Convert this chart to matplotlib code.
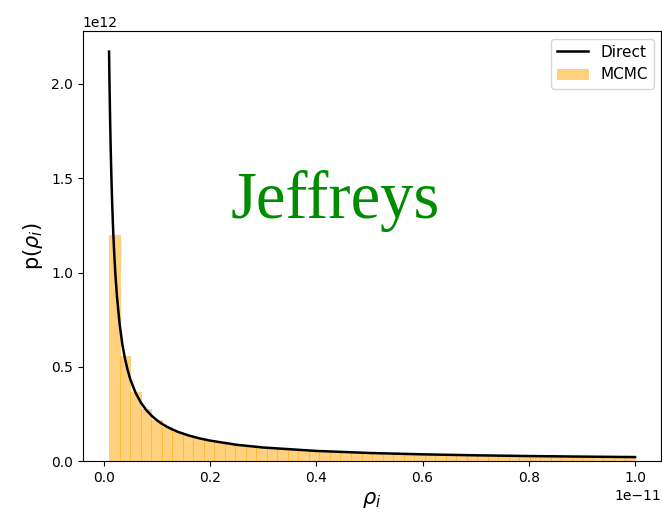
import matplotlib.pyplot as plt
import numpy as np

# analytic density (Jeffreys prior on rho), x in units of 1e-11, y in 1e12
rho_direct = [0.010, 0.011, 0.012, 0.013, 0.014, 0.015, 0.016, 0.017, 0.018, 0.020,
              0.022, 0.025, 0.030, 0.035, 0.040, 0.045, 0.050, 0.060, 0.070, 0.080,
              0.090, 0.100, 0.110, 0.120, 0.130, 0.140, 0.160, 0.180, 0.200,
              0.250, 0.300, 0.400, 0.500, 0.600, 0.700, 0.800, 0.900, 1.000]
p_direct = [2.171, 1.974, 1.810, 1.670, 1.551, 1.448, 1.357, 1.277, 1.206, 1.086,
            0.987, 0.869, 0.724, 0.620, 0.543, 0.483, 0.434, 0.362, 0.310, 0.271,
            0.241, 0.217, 0.197, 0.181, 0.167, 0.155, 0.136, 0.121, 0.109,
            0.0869, 0.0724, 0.0543, 0.0434, 0.0362, 0.0310, 0.0271, 0.0241, 0.0217]

# MCMC histogram, 50 bins between 1e-13 and 1e-11
bin_lo, bin_hi, n_bins = 0.01, 1.0, 50
p_mcmc = [1.198, 0.559, 0.368, 0.275, 0.220, 0.183, 0.1566, 0.1370, 0.1218, 0.1096,
          0.0997, 0.0914, 0.0843, 0.0783, 0.0731, 0.0685, 0.0645, 0.0609, 0.0577, 0.0548,
          0.0522, 0.0498, 0.0477, 0.0457, 0.0439, 0.0422, 0.0406, 0.0392, 0.0378, 0.0366,
          0.0354, 0.0343, 0.0332, 0.0323, 0.0313, 0.0305, 0.0296, 0.0289, 0.0281, 0.0274,
          0.0267, 0.0261, 0.0255, 0.0249, 0.0244, 0.0238, 0.0233, 0.0228, 0.0224, 0.0219]

x_scale, y_scale = 1e-11, 1e12

edges = np.linspace(bin_lo, bin_hi, n_bins + 1) * x_scale
heights = np.array(p_mcmc) * y_scale

fig = plt.figure(figsize=(6.62, 5.17), dpi=100)
ax = fig.add_axes([0.125, 0.108, 0.874, 0.832])

ax.plot(np.array(rho_direct) * x_scale, np.array(p_direct) * y_scale,
        color='black', linewidth=1.8, label='Direct', zorder=3)
ax.bar(edges[:-1], heights, width=np.diff(edges), align='edge',
       color='orange', alpha=0.5, edgecolor=(1.0, 0.65, 0.0, 0.5),
       linewidth=0.5, label='MCMC')

ax.set_ylim(0, 2.28e12)
ax.set_xlabel(r'$\rho_i$', fontsize=15)
ax.set_ylabel(r'p($\rho_i$)', fontsize=15)
ax.legend(loc='upper right', fontsize=11)

ax.text(0.238e-11, 1.29e12, 'Jeffreys', family='Liberation Serif',
        fontsize=48, color='#008c00', ha='left', va='baseline')

fig.savefig('out.png', dpi=100)
